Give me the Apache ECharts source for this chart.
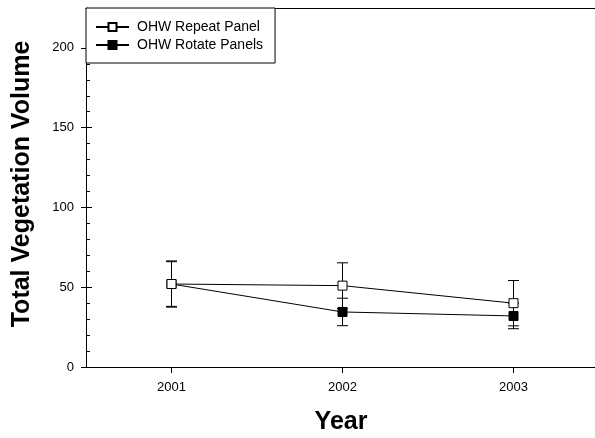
<!DOCTYPE html>
<html>
<head>
<meta charset="utf-8">
<script src="https://cdn.jsdelivr.net/npm/echarts@6/dist/echarts.min.js"></script>
<style>
  html, body { margin: 0; padding: 0; background: #fff; }
  #chart { width: 595px; height: 438px; }
</style>
</head>
<body>
<div id="chart"></div>
<script>
// Survey years on the x axis
const years = [2001, 2002, 2003];

// Mean total vegetation volume and its error (+/-) per year
const repeatMean = [52, 51, 40];
const repeatErr = [14, 14.3, 14.2];
const rotateMean = [52, 34.5, 32];
const rotateErr = [14.5, 8.6, 8];

// Axis tick values
const yMajorTicks = [0, 50, 100, 150, 200];
const yMinorTicks = [10, 20, 30, 40, 60, 70, 80, 90, 110, 120, 130, 140, 160, 170, 180, 190, 210, 220];
const xTicks = [2001, 2002, 2003];

const seriesNames = ['OHW Repeat Panel', 'OHW Rotate Panels'];

const FONT = 'Liberation Sans, Arial, sans-serif';

// x extent: half a year before 2001; the frame runs past the right edge of the canvas
const X_MIN = 2000.5;
const X_MAX = 2003.4766;

function errData(means, errs) {
  return years.map((yr, i) => [yr, means[i] - errs[i], means[i] + errs[i]]);
}

// Vertical whisker with end caps, placed through the axis scales
function renderError(params, api) {
  const x = api.value(0);
  const lo = api.coord([x, api.value(1)]);
  const hi = api.coord([x, api.value(2)]);
  const half = 5.5;
  const style = { stroke: '#000', lineWidth: 1 };
  return {
    type: 'group',
    children: [
      { type: 'line', shape: { x1: lo[0], y1: lo[1], x2: hi[0], y2: hi[1] }, style },
      { type: 'line', shape: { x1: hi[0] - half, y1: hi[1], x2: hi[0] + half, y2: hi[1] }, style },
      { type: 'line', shape: { x1: lo[0] - half, y1: lo[1], x2: lo[0] + half, y2: lo[1] }, style }
    ]
  };
}

const baseY = {
  type: 'value', min: 0, max: 225, position: 'left',
  axisLine: { show: false }, splitLine: { show: false },
  axisLabel: { show: false }, axisTick: { show: false }
};

const chart = echarts.init(document.getElementById('chart'));
chart.setOption({
  animation: false,
  backgroundColor: '#fff',
  grid: { left: 86, top: 8, right: 0, bottom: 71 },
  legend: {
    data: seriesNames,
    orient: 'vertical',
    left: 86, top: 8,
    itemWidth: 33, itemHeight: 10, itemGap: 4,
    padding: [12, 12, 11, 9],
    borderColor: '#000', borderWidth: 1, borderRadius: 0,
    backgroundColor: '#fff',
    textStyle: { fontFamily: FONT, fontSize: 14, color: '#000', padding: [0, 0, 0, 3] },
    z: 10
  },
  xAxis: [
    {
      type: 'value', min: X_MIN, max: X_MAX, position: 'bottom',
      axisLine: { show: true, onZero: false, lineStyle: { color: '#000', width: 1 } },
      splitLine: { show: false },
      axisTick: { show: true, length: 6, customValues: xTicks, lineStyle: { color: '#000' } },
      axisLabel: {
        customValues: xTicks, margin: 14,
        fontFamily: FONT, fontSize: 13, color: '#000',
        formatter: v => String(v)
      }
    },
    {
      // top edge of the frame
      type: 'value', min: X_MIN, max: X_MAX, position: 'top',
      axisLine: { show: true, onZero: false, lineStyle: { color: '#000', width: 1 } },
      splitLine: { show: false }, axisTick: { show: false }, axisLabel: { show: false }
    }
  ],
  yAxis: [
    Object.assign({}, baseY, {
      axisLine: { show: true, onZero: false, lineStyle: { color: '#000', width: 1 } },
      axisTick: { show: true, length: 5, customValues: yMajorTicks, lineStyle: { color: '#000' } },
      axisLabel: {
        show: true, customValues: yMajorTicks, margin: 12,
        fontFamily: FONT, fontSize: 13, color: '#000'
      }
    }),
    Object.assign({}, baseY, {
      axisTick: { show: true, inside: true, length: 6, customValues: yMajorTicks, lineStyle: { color: '#000' } }
    }),
    Object.assign({}, baseY, {
      axisTick: { show: true, inside: true, length: 4, customValues: yMinorTicks, lineStyle: { color: '#000' } }
    })
  ],
  graphic: [
    {
      type: 'text', x: 341, y: 422, z: 20,
      style: { text: 'Year', fontFamily: FONT, fontSize: 25, fontWeight: 'bold', fill: '#000', textAlign: 'center', textVerticalAlign: 'middle' }
    },
    {
      type: 'text', x: 22, y: 184, rotation: Math.PI / 2, z: 20,
      style: { text: 'Total Vegetation Volume', fontFamily: FONT, fontSize: 25, fontWeight: 'bold', fill: '#000', textAlign: 'center', textVerticalAlign: 'middle' }
    }
  ],
  series: [
    {
      name: 'Repeat error', type: 'custom', renderItem: renderError,
      data: errData(repeatMean, repeatErr), encode: { x: 0, y: [1, 2] }, z: 2, silent: true
    },
    {
      name: 'Rotate error', type: 'custom', renderItem: renderError,
      data: errData(rotateMean, rotateErr), encode: { x: 0, y: [1, 2] }, z: 2, silent: true
    },
    {
      name: seriesNames[0], type: 'line',
      data: years.map((yr, i) => [yr, repeatMean[i]]),
      symbol: 'rect', symbolSize: 9, showAllSymbol: true,
      lineStyle: { color: '#000', width: 1 },
      itemStyle: { color: '#fff', borderColor: '#000', borderWidth: 1 },
      z: 4
    },
    {
      name: seriesNames[1], type: 'line',
      data: years.map((yr, i) => [yr, rotateMean[i]]),
      symbol: 'rect', symbolSize: 9, showAllSymbol: true,
      lineStyle: { color: '#000', width: 1 },
      itemStyle: { color: '#000', borderColor: '#000', borderWidth: 1 },
      z: 3
    }
  ]
});
</script>
</body>
</html>
